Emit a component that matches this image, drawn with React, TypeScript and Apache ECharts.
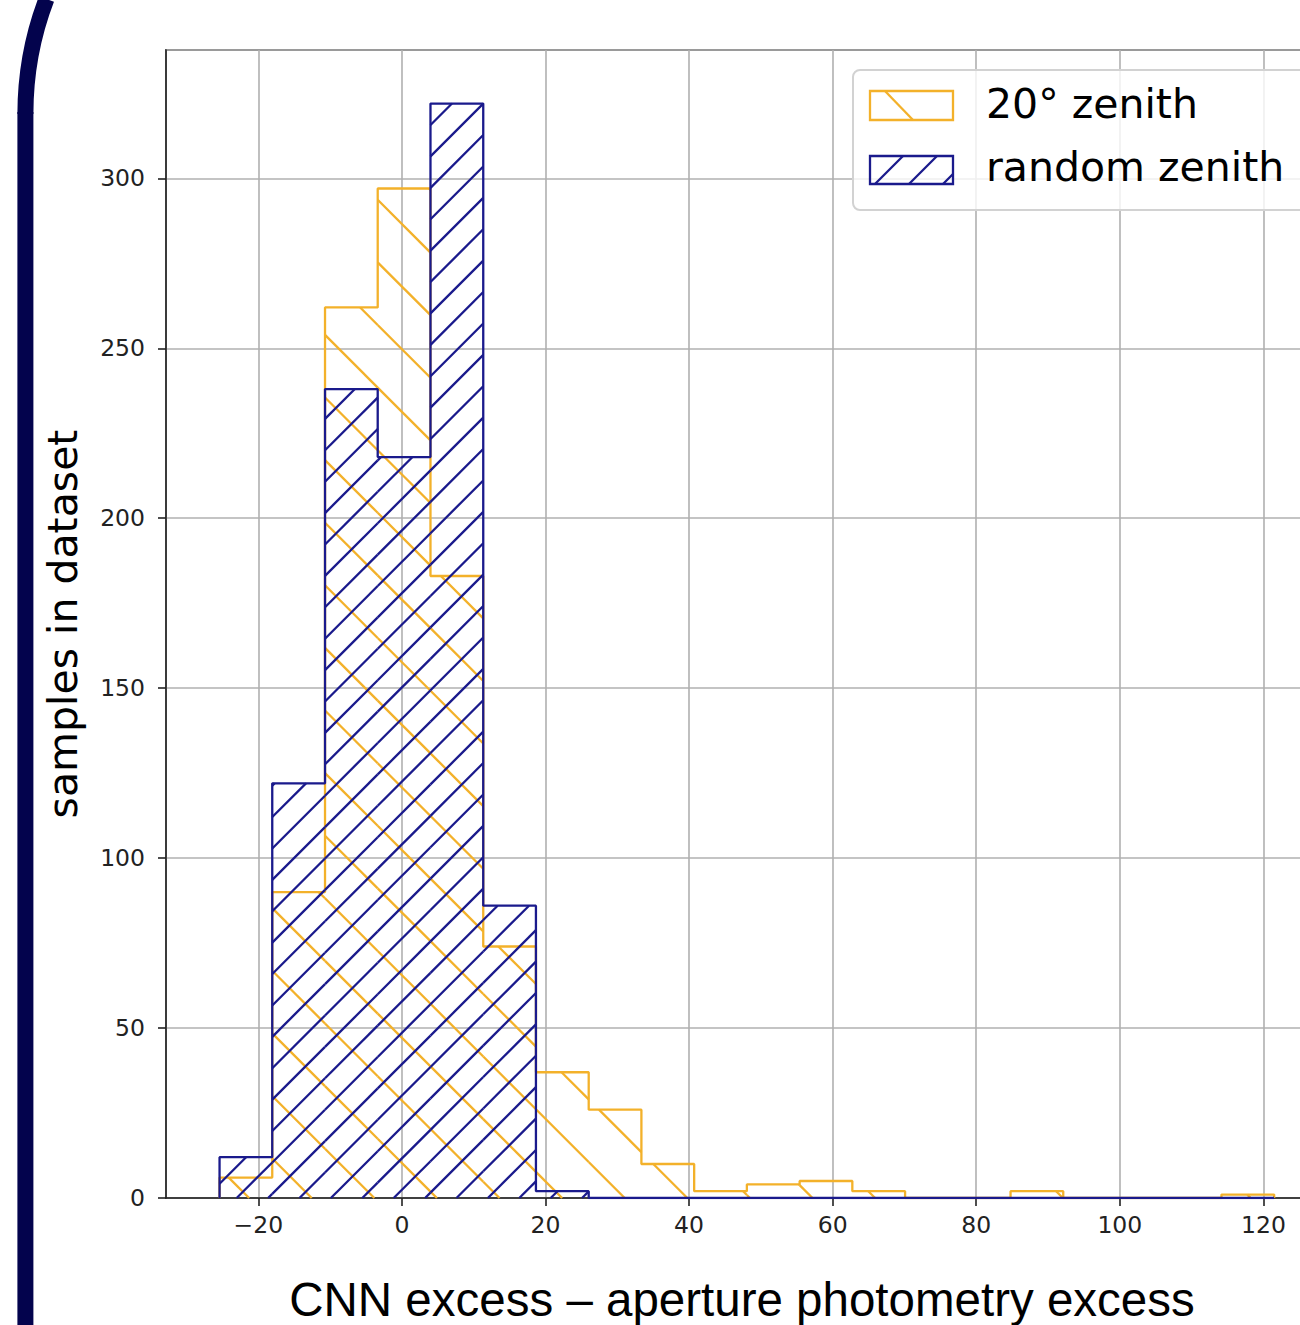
import React, { useEffect, useRef } from "react";
import * as echarts from "echarts";

// Shared histogram bin edges (x units)
const binEdges = [
  -25.4, -18.06, -10.71, -3.37, 3.98, 11.33, 18.67, 26.02, 33.36, 40.71, 48.05,
  55.4, 62.74, 70.09, 77.43, 84.78, 92.12, 99.47, 106.81, 114.16, 121.5,
];
// Counts per bin
const zenith20Counts = [6, 90, 262, 297, 183, 74, 37, 26, 10, 2, 4, 5, 2, 0, 0, 2, 0, 0, 0, 1];
const randomZenithCounts = [12, 122, 238, 218, 322, 86, 2, 0, 0, 0, 0, 0, 0, 0, 0, 0, 0, 0, 0, 0];

const seriesNames = ["20° zenith", "random zenith"];
const xTitle = "CNN excess – aperture photometry excess";
const yTitle = "samples in dataset";

const ORANGE = "#F3B12A";
const BLUE = "#1A1A8C";
const NAVY = "#03034D";

function stepPoints(counts: number[]) {
  const pts: number[][] = [[binEdges[0], 0]];
  counts.forEach((c, i) => {
    pts.push([binEdges[i], c]);
    pts.push([binEdges[i + 1], c]);
  });
  pts.push([binEdges[binEdges.length - 1], 0]);
  return pts;
}

function binData(counts: number[]) {
  return counts.map((c, i) => [binEdges[i], binEdges[i + 1], c]);
}

// hatch segments within rect [xa,xb]x[yt,yb]; lines cross baseline B at baseX + k*spacing
function hatchSegments(
  xa: number, xb: number, yt: number, yb: number,
  B: number, baseX: number, spacing: number, dir: "back" | "fwd"
) {
  const segs: number[][] = [];
  let lo: number, hi: number;
  if (dir === "back") {
    lo = xa + (B - yb);
    hi = xb + (B - yt);
  } else {
    lo = xa - (B - yt);
    hi = xb - (B - yb);
  }
  const k0 = Math.floor((lo - baseX) / spacing) - 1;
  const k1 = Math.ceil((hi - baseX) / spacing) + 1;
  for (let k = k0; k <= k1; k++) {
    const xc = baseX + k * spacing;
    if (dir === "back") {
      const c = B - xc; // y = x + c
      const xs = Math.max(xa, yt - c);
      const xe = Math.min(xb, yb - c);
      if (xe > xs + 0.2) segs.push([xs, xs + c, xe, xe + c]);
    } else {
      const c = B + xc; // y = -x + c
      const xs = Math.max(xa, c - yb);
      const xe = Math.min(xb, c - yt);
      if (xe > xs + 0.2) segs.push([xs, c - xs, xe, c - xe]);
    }
  }
  return segs;
}

function makeHatchRender(color: string, dir: "back" | "fwd", spacing: number, phase: number) {
  return (params: any, api: any) => {
    const x0 = api.value(0);
    const x1 = api.value(1);
    const h = api.value(2);
    if (!(h > 0)) return { type: "group", children: [] };
    const tl = api.coord([x0, h]);
    const br = api.coord([x1, 0]);
    const org = api.coord([0, 0]);
    const segs = hatchSegments(tl[0], br[0], tl[1], br[1], org[1], org[0] + phase, spacing, dir);
    return {
      type: "group",
      children: segs.map((s) => ({
        type: "line",
        shape: { x1: s[0], y1: s[1], x2: s[2], y2: s[3] },
        style: { stroke: color, lineWidth: 2.3, fill: null },
      })),
    };
  };
}

function legendGraphics() {
  const els: any[] = [];
  els.push({
    type: "rect",
    z: 100,
    shape: { x: 853, y: 70, width: 520, height: 140, r: 7 },
    style: { fill: "rgba(255,255,255,0.8)", stroke: "#d2d2d2", lineWidth: 2 },
  });
  els.push({
    type: "rect",
    z: 101,
    shape: { x: 870, y: 91, width: 83, height: 29 },
    style: { fill: "none", stroke: ORANGE, lineWidth: 2.3 },
  });
  els.push({
    type: "line",
    z: 101,
    shape: { x1: 885, y1: 91, x2: 913, y2: 120 },
    style: { stroke: ORANGE, lineWidth: 2.3 },
  });
  els.push({
    type: "rect",
    z: 101,
    shape: { x: 870, y: 156, width: 83, height: 28 },
    style: { fill: "none", stroke: BLUE, lineWidth: 2.3 },
  });
  hatchSegments(870, 953, 156, 184, 184, 875, 34, "fwd").forEach((s) =>
    els.push({
      type: "line",
      z: 101,
      shape: { x1: s[0], y1: s[1], x2: s[2], y2: s[3] },
      style: { stroke: BLUE, lineWidth: 2.3 },
    })
  );
  els.push({
    type: "text",
    z: 102,
    x: 986,
    y: 104,
    style: {
      text: seriesNames[0],
      fill: "#000",
      font: '41px "DejaVu Sans"',
      textVerticalAlign: "middle",
      verticalAlign: "middle",
    },
  });
  els.push({
    type: "text",
    z: 102,
    x: 986,
    y: 167,
    style: {
      text: seriesNames[1],
      fill: "#000",
      font: '41px "DejaVu Sans"',
      textVerticalAlign: "middle",
      verticalAlign: "middle",
    },
  });
  // slide frame (navy rounded border)
  els.push({
    type: "bezierCurve",
    z: 50,
    shape: { x1: 46.5, y1: -1, cpx1: 25.4, cpy1: 54, x2: 25.4, y2: 114 },
    style: { stroke: NAVY, lineWidth: 16, fill: null },
  });
  els.push({
    type: "line",
    z: 50,
    shape: { x1: 25.4, y1: 112, x2: 25.4, y2: 1330 },
    style: { stroke: NAVY, lineWidth: 16 },
  });
  return els;
}

const minusFmt = (v: number) => String(v).replace("-", "\u2212");

export default function App() {
  const ref = useRef<HTMLDivElement>(null);
  useEffect(() => {
    if (!ref.current) return;
    const chart = echarts.init(ref.current, null, { renderer: "svg" });
    const tickFont = { fontFamily: "DejaVu Sans", fontSize: 23.5, color: "#222" };
    chart.setOption({
      animation: false,
      backgroundColor: "#fff",
      grid: {
        left: 166,
        top: 50,
        width: 1174,
        height: 1148,
        show: true,
        borderColor: "#222",
        borderWidth: 1.6,
        backgroundColor: "transparent",
        containLabel: false,
        outerBoundsMode: "none",
      },
      xAxis: {
        type: "value",
        min: -32.86,
        max: 130.67,
        splitNumber: 8,
        minInterval: 20,
        maxInterval: 20,
        name: xTitle,
        nameLocation: "middle",
        nameGap: 77,
        nameTextStyle: {
          fontFamily: "Liberation Sans",
          fontSize: 47.5,
          color: "#000",
          padding: [0, 22, 0, 0],
        },
        axisLine: { show: true, onZero: false, lineStyle: { color: "#222", width: 1.6 } },
        axisTick: { show: true, length: 8, lineStyle: { color: "#222", width: 1.6 } },
        axisLabel: { ...tickFont, margin: 15, showMinLabel: false, showMaxLabel: false, formatter: minusFmt },
        splitLine: { show: true, lineStyle: { color: "#b0b0b0", width: 1.6 } },
      },
      yAxis: {
        type: "value",
        min: 0,
        max: 337.75,
        splitNumber: 7,
        minInterval: 50,
        maxInterval: 50,
        name: yTitle,
        nameLocation: "middle",
        nameGap: 83,
        nameRotate: 90,
        nameTextStyle: { fontFamily: "DejaVu Sans", fontSize: 41, color: "#000" },
        axisLine: { show: true, onZero: false, lineStyle: { color: "#222", width: 1.6 } },
        axisTick: { show: true, length: 8, lineStyle: { color: "#222", width: 1.6 } },
        axisLabel: { ...tickFont, margin: 21, showMinLabel: true, showMaxLabel: false },
        splitLine: { show: true, lineStyle: { color: "#b0b0b0", width: 1.6 } },
      },
      series: [
        {
          type: "custom",
          name: seriesNames[0] + " hatch",
          z: 2,
          silent: true,
          renderItem: makeHatchRender(ORANGE, "back", 62.6, 35),
          encode: { x: [0, 1], y: 2 },
          data: binData(zenith20Counts),
        },
        {
          type: "line",
          name: seriesNames[0],
          z: 3,
          silent: true,
          symbol: "none",
          lineStyle: { color: ORANGE, width: 2.3 },
          data: stepPoints(zenith20Counts),
        },
        {
          type: "custom",
          name: seriesNames[1] + " hatch",
          z: 4,
          silent: true,
          renderItem: makeHatchRender(BLUE, "fwd", 31.4, 23.2),
          encode: { x: [0, 1], y: 2 },
          data: binData(randomZenithCounts),
        },
        {
          type: "line",
          name: seriesNames[1],
          z: 5,
          silent: true,
          symbol: "none",
          lineStyle: { color: BLUE, width: 2.3 },
          data: stepPoints(randomZenithCounts),
        },
      ],
      graphic: legendGraphics(),
    });
    return () => chart.dispose();
  }, []);
  return (
    <div
      ref={ref}
      style={{ position: "absolute", left: 0, top: 0, width: 1300, height: 1325, background: "#fff" }}
    />
  );
}
